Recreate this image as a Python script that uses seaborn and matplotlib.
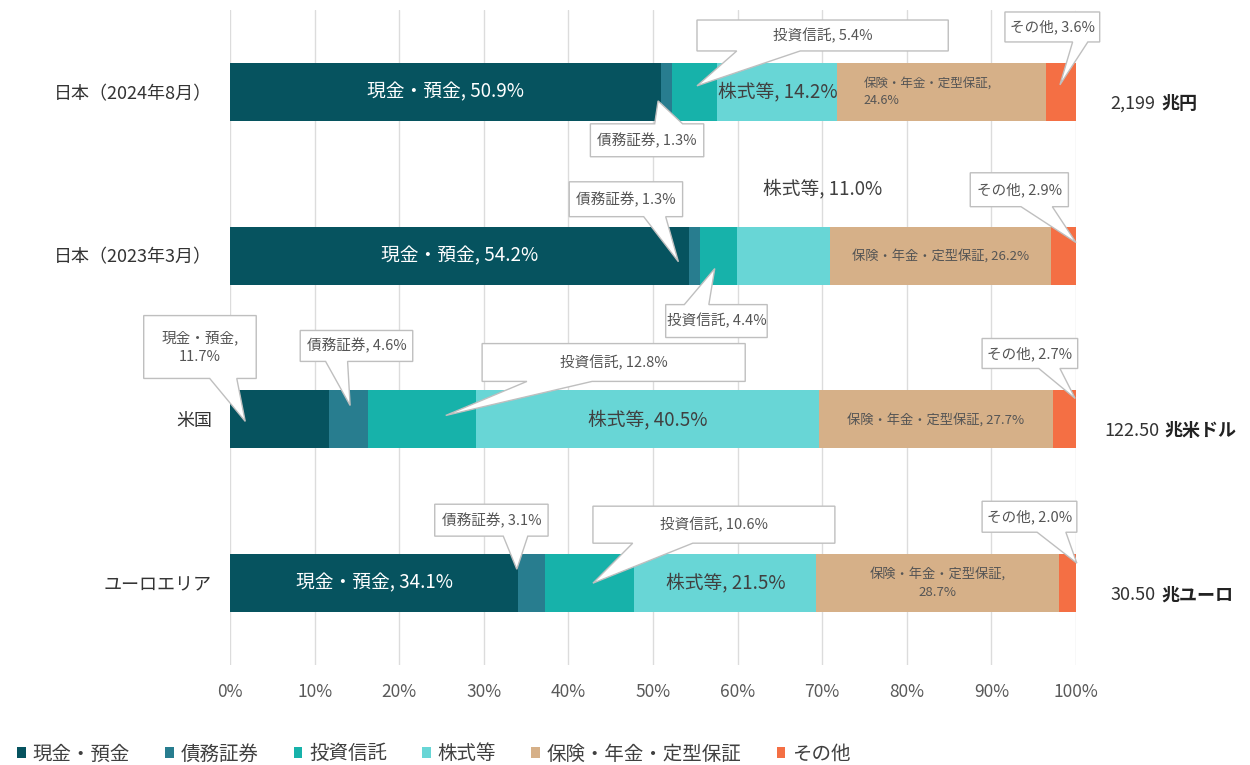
import pandas as pd
import seaborn as sns
import matplotlib.pyplot as plt
from matplotlib.patches import Polygon, Patch

regions = ['日本（2024年8月）', '日本（2023年3月）', '米国', 'ユーロエリア']
assets = ['現金・預金', '債務証券', '投資信託', '株式等', '保険・年金・定型保証', 'その他']
cash = [50.9, 54.2, 11.7, 34.1]
bonds = [1.3, 1.3, 4.6, 3.1]
funds = [5.4, 4.4, 12.8, 10.6]
equity = [14.2, 11.0, 40.5, 21.5]
insurance = [24.6, 26.2, 27.7, 28.7]
other = [3.6, 2.9, 2.7, 2.0]
totals = ['2,199', '', '122.50', '30.50']
units = ['兆円', '', '兆米ドル', '兆ユーロ']
xticks = list(range(0, 101, 10))
colors = ['#06535f', '#287d8f', '#17b2aa', '#68d6d6', '#d6b088', '#f46f44']

series = [cash, bonds, funds, equity, insurance, other]
rows = []
for i, reg in enumerate(regions):
    cum = 0
    for a, vals in zip(assets, series):
        rows.append({'region': reg, 'asset': a, 'value': vals[i], 'left': cum, 'cum': cum + vals[i]})
        cum += vals[i]
df = pd.DataFrame(rows)

sns.set_style('white')
plt.rcParams['font.family'] = ['Noto Sans CJK JP', 'DejaVu Sans']

fig = plt.figure(figsize=(12.5, 7.65), dpi=100)
ax = fig.add_axes([0.184, 0.1307, 0.6768, 0.8562])

# stacked bars: draw cumulative widths from the outermost layer inwards
for a, c in reversed(list(zip(assets, colors))):
    sns.barplot(data=df[df['asset'] == a], x='cum', y='region', order=regions,
                color=c, saturation=1, width=0.355, linewidth=0, orient='h', ax=ax)

ax.set_xlim(0, 100)
ax.set_ylim(3.5, -0.5)
ax.set_xticks(xticks)
ax.set_xticklabels([f'{t}%' for t in xticks], fontsize=12.5, color='#595959')
ax.tick_params(axis='x', length=0, pad=13)
ax.tick_params(axis='y', length=0, pad=13, labelsize=13, labelcolor='#333333')
ax.grid(axis='x', color='#dcdcdc', lw=1)
ax.set_axisbelow(True)
ax.set_xlabel('')
ax.set_ylabel('')
sns.despine(ax=ax, left=True, bottom=True)


def seg(i, k):
    r = df[(df['region'] == regions[i]) & (df['asset'] == assets[k])].iloc[0]
    return r['left'] + r['value'] / 2, r['value']


def lab(k, i, sep=', '):
    return f'{assets[k]}{sep}{series[k][i]:.1f}%'


# labels inside the bars
for i in [0, 1, 3]:
    x, v = seg(i, 0)
    ax.text(x, i, lab(0, i), ha='center', va='center', color='white', fontsize=13.5, zorder=4)
for i in [0, 2, 3]:
    x, v = seg(i, 3)
    ax.text(x, i, lab(3, i), ha='center', va='center', color='#404040', fontsize=13.5, zorder=4)
ax.text(70.0, 0.59, lab(3, 1), ha='center', va='center', color='#404040', fontsize=13.5)

r0 = df[(df['region'] == regions[0]) & (df['asset'] == assets[4])].iloc[0]
ax.text(r0['left'] + 3.1, 0, lab(4, 0, ',\n'), ha='left', va='center', color='#555555',
        fontsize=9, linespacing=1.5, zorder=4)
for i in [1, 2]:
    x, v = seg(i, 4)
    ax.text(x, i, lab(4, i), ha='center', va='center', color='#555555', fontsize=9.5, zorder=4)
x, v = seg(3, 4)
ax.text(x, 3, lab(4, 3, ',\n'), ha='center', va='center', color='#555555', fontsize=9.5,
        linespacing=1.5, zorder=4)

# callouts: (asset, region, box x0, x1, y0, y1, wedge base b1, b2, tip x, tip y)
callouts = [
    (2, 0, 55.2, 84.9, -0.439, -0.250, 59.9, 67.4, 55.2, -0.037, ', '),
    (1, 0, 42.6, 56.0, 0.195, 0.396, 50.2, 53.5, 50.6, 0.055, ', '),
    (5, 0, 91.6, 102.8, -0.488, -0.305, 99.6, 101.4, 98.1, -0.043, ', '),
    (1, 1, 40.1, 53.5, 0.549, 0.762, 48.9, 51.5, 53.0, 1.037, ', '),
    (2, 1, 51.5, 63.5, 1.299, 1.500, 53.7, 56.6, 57.3, 1.079, ', '),
    (5, 1, 87.5, 99.1, 0.494, 0.701, 93.5, 97.2, 100.0, 0.92, ', '),
    (0, 2, -10.2, 3.1, 1.366, 1.750, -2.4, 0.8, 1.8, 2.012, ',\n'),
    (1, 2, 8.3, 21.6, 1.457, 1.646, 11.3, 13.9, 14.2, 1.915, ', '),
    (2, 2, 29.8, 60.9, 1.537, 1.768, 35.1, 42.8, 25.5, 1.976, ', '),
    (5, 2, 88.9, 100.2, 1.506, 1.689, 95.6, 98.1, 99.9, 1.872, ', '),
    (1, 3, 24.2, 37.6, 2.518, 2.713, 32.3, 35.2, 33.9, 2.915, ', '),
    (2, 3, 42.9, 71.5, 2.530, 2.756, 47.6, 54.7, 42.9, 3.0, ', '),
    (5, 3, 88.9, 100.1, 2.500, 2.689, 95.4, 98.8, 100.1, 2.878, ', '),
]
for k, i, x0, x1, y0, y1, b1, b2, tx, ty, sep in callouts:
    ye, yo = (y1, y0) if ty > y1 else (y0, y1)
    pts = [(x0, yo), (x1, yo), (x1, ye), (b2, ye), (tx, ty), (b1, ye), (x0, ye)]
    ax.add_patch(Polygon(pts, closed=True, fc='white', ec='#bfbfbf', lw=1, zorder=5, clip_on=False))
    ax.text((x0 + x1) / 2, (y0 + y1) / 2, lab(k, i, sep), ha='center', va='center',
            color='#555555', fontsize=10.5, linespacing=1.45, zorder=6, clip_on=False)

# totals on the right
for i, (t, u) in enumerate(zip(totals, units)):
    if not t:
        continue
    tt = ax.text(104.1 if i != 2 else 103.3, i + 0.07, t, ha='left', va='center',
                 fontsize=13, color='#333333', clip_on=False)
    ax.annotate(u, xy=(1, 0.5), xycoords=tt, xytext=(4, 0), textcoords='offset points',
                ha='left', va='center', fontsize=13, fontweight='bold', color='#222222')

handles = [Patch(fc=c, ec='none') for c in colors]
fig.legend(handles, assets, loc='lower left', bbox_to_anchor=(0.006, -0.012), ncol=6,
           frameon=False, fontsize=14, handlelength=0.45, handleheight=0.45,
           handletextpad=0.35, columnspacing=1.8, borderaxespad=0.3, borderpad=0.2,
           labelcolor='#404040')

fig.savefig('out.png', dpi=100)
